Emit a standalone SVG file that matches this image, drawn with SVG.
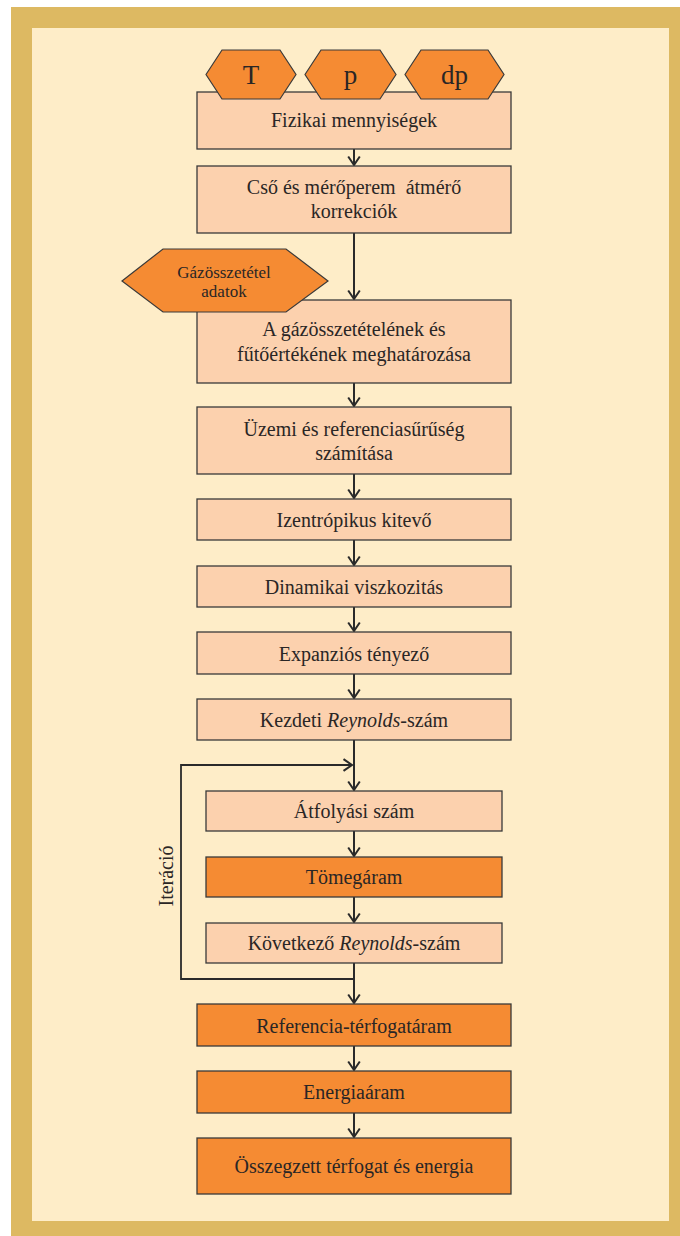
<svg xmlns="http://www.w3.org/2000/svg" width="680" height="1236" viewBox="0 0 680 1236">
<style>
.lt{fill:#FCD1AE;stroke:#3a3a3a;stroke-width:1.3}
.dk{fill:#F58B33;stroke:#3a3a3a;stroke-width:1.3}
.hx{fill:#F58B33;stroke:#3a3a3a;stroke-width:1.2}
text{font-family:"Liberation Serif","Times New Roman",serif;fill:#2a2625;text-anchor:middle}
.t{font-size:20px}
.h{font-size:27px}
.s{font-size:17px}
.cn{fill:none;stroke:#2a2a2a;stroke-width:2}
</style>
<defs>
<marker id="ah" markerUnits="userSpaceOnUse" viewBox="-11 -8 13 16" refX="0" refY="0" markerWidth="13" markerHeight="16" orient="auto">
<path d="M-8.5,-5.8 L0,0 L-8.5,5.8" fill="none" stroke="#2a2a2a" stroke-width="2"/>
</marker>
</defs>
<rect x="11" y="7" width="669" height="1229" fill="#DDB962"/>
<rect x="32" y="28" width="637" height="1193" fill="#FEEDC8"/>
<g id="connectors">
<path class="cn" d="M354,149 V165" marker-end="url(#ah)"/>
<path class="cn" d="M354,233 V299" marker-end="url(#ah)"/>
<path class="cn" d="M354,383 V406" marker-end="url(#ah)"/>
<path class="cn" d="M354,474 V498" marker-end="url(#ah)"/>
<path class="cn" d="M354,540 V565" marker-end="url(#ah)"/>
<path class="cn" d="M354,607 V631" marker-end="url(#ah)"/>
<path class="cn" d="M354,674 V698" marker-end="url(#ah)"/>
<path class="cn" d="M354,740 V790" marker-end="url(#ah)"/>
<path class="cn" d="M354,831 V856" marker-end="url(#ah)"/>
<path class="cn" d="M354,897 V922" marker-end="url(#ah)"/>
<path class="cn" d="M354,963 V1003" marker-end="url(#ah)"/>
<path class="cn" d="M354,1046 V1070" marker-end="url(#ah)"/>
<path class="cn" d="M354,1113 V1137" marker-end="url(#ah)"/>
<path class="cn" d="M354,979 H181 V765 H352" marker-end="url(#ah)" style="stroke-width:1.8"/>
</g>
<g id="n-fizikai">
<rect class="lt" x="197" y="92" width="314" height="57"/>
<text class="t" x="354" y="127">Fizikai mennyiségek</text>
</g>
<g id="h-T">
<polygon class="hx" points="206,74.5 222,50 280,50 296,74.5 280,99 222,99"/>
<text class="h" x="251" y="84">T</text>
</g>
<g id="h-p">
<polygon class="hx" points="305,74.5 321,50 380,50 396,74.5 380,99 321,99"/>
<text class="h" x="350.5" y="84">p</text>
</g>
<g id="h-dp">
<polygon class="hx" points="405,74.5 421,50 488,50 504,74.5 488,99 421,99"/>
<text class="h" x="454.5" y="84">dp</text>
</g>
<g id="n-cso">
<rect class="lt" x="197" y="166" width="314" height="67"/>
<text class="t" x="354" y="194" xml:space="preserve">Cső és mérőperem  átmérő</text>
<text class="t" x="354" y="218">korrekciók</text>
</g>
<g id="n-gaz">
<rect class="lt" x="197" y="300" width="314" height="83"/>
<text class="t" x="354" y="336">A gázösszetételének és</text>
<text class="t" x="354" y="360.5">fűtőértékének meghatározása</text>
</g>
<g id="h-gaz">
<polygon class="hx" points="122,281 163,249 286,249 328,281 286,312 163,312"/>
<text class="s" x="224" y="277.5">Gázösszetétel</text>
<text class="s" x="224" y="296.5">adatok</text>
</g>
<g id="n-uzemi">
<rect class="lt" x="197" y="407" width="314" height="67"/>
<text class="t" x="354" y="436">Üzemi és referenciasűrűség</text>
<text class="t" x="354" y="460">számítása</text>
</g>
<g id="n-izentr">
<rect class="lt" x="197" y="499" width="314" height="41"/>
<text class="t" x="354" y="527">Izentrópikus kitevő</text>
</g>
<g id="n-dinam">
<rect class="lt" x="197" y="566" width="314" height="41"/>
<text class="t" x="354" y="594">Dinamikai viszkozitás</text>
</g>
<g id="n-expan">
<rect class="lt" x="197" y="632" width="314" height="42"/>
<text class="t" x="354" y="660.5">Expanziós tényező</text>
</g>
<g id="n-kezdeti">
<rect class="lt" x="197" y="699" width="314" height="41"/>
<text class="t" x="354" y="726.5">Kezdeti <tspan font-style="italic">Reynolds</tspan>-szám</text>
</g>
<g id="n-atfoly">
<rect class="lt" x="206" y="791" width="296" height="40"/>
<text class="t" x="354" y="817.5">Átfolyási szám</text>
</g>
<g id="n-tomeg">
<rect class="dk" x="206" y="857" width="296" height="40"/>
<text class="t" x="354" y="883.5">Tömegáram</text>
</g>
<g id="n-kov">
<rect class="lt" x="206" y="923" width="296" height="40"/>
<text class="t" x="354" y="949.5">Következő <tspan font-style="italic">Reynolds</tspan>-szám</text>
</g>
<g id="l-iter">
<text class="t" transform="translate(173,876) rotate(-90)">Iteráció</text>
</g>
<g id="n-ref">
<rect class="dk" x="197" y="1004" width="314" height="42"/>
<text class="t" x="354" y="1032.5">Referencia-térfogatáram</text>
</g>
<g id="n-energia">
<rect class="dk" x="197" y="1071" width="314" height="42"/>
<text class="t" x="354" y="1099">Energiaáram</text>
</g>
<g id="n-ossz">
<rect class="dk" x="197" y="1138" width="314" height="56"/>
<text class="t" x="354" y="1173">Összegzett térfogat és energia</text>
</g>
</svg>
